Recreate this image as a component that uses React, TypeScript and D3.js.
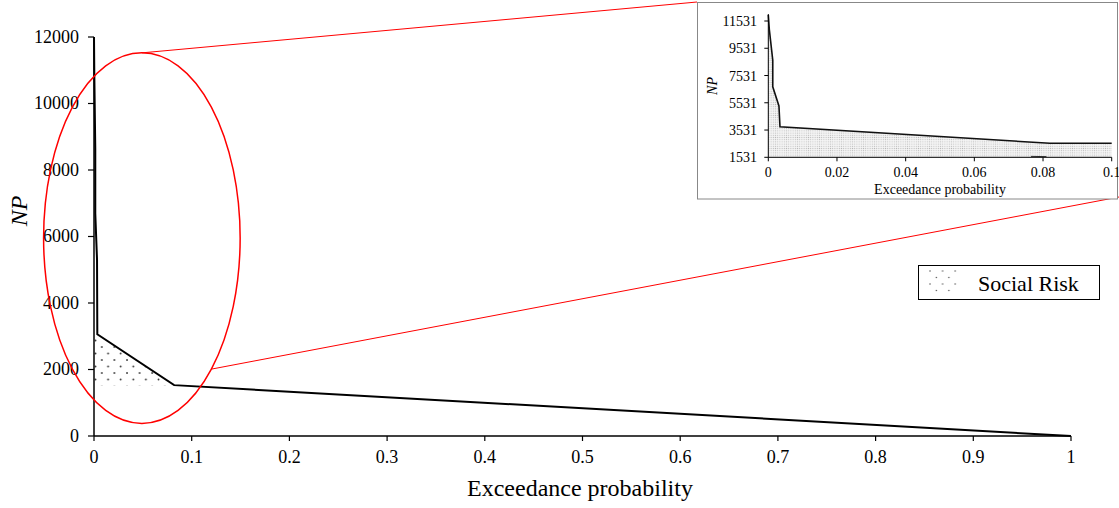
import React from "react";
import * as d3 from "d3";

// Main chart data (exceedance probability vs NP)
const mainX = [0, 0.0003, 0.0013, 0.0013, 0.0031, 0.0034, 0.082, 1];
const mainY = [12000, 10900, 8650, 6700, 5300, 3060, 1530, 0];
// Social-risk shaded region (main)
const riskX = [0, 0.0034, 0.082, 0];
const riskY = [3060, 3060, 1530, 1530];

const xTicks = [0, 0.1, 0.2, 0.3, 0.4, 0.5, 0.6, 0.7, 0.8, 0.9, 1];
const yTicks = [0, 2000, 4000, 6000, 8000, 10000, 12000];

// Inset (zoom 0..0.1)
const insetX = [0, 0.0003, 0.0013, 0.0013, 0.0031, 0.0034, 0.082, 0.1];
const insetY = [11970, 10900, 8650, 6700, 5300, 3775, 2560, 2560];
const insetXTicks = [0, 0.02, 0.04, 0.06, 0.08, 0.1];
const insetYTicks = [1531, 3531, 5531, 7531, 9531, 11531];
const artifactX = [0.0765, 0.081];
const artifactY = [1600, 1580];

// Zoom ellipse (data units)
const ellipseCenter = [0.049, 5950];
const ellipseRadii = [0.1006, 5573];

const FONT = "Liberation Serif, Times New Roman, Times, serif";

export default function App() {
  const W = 1119, H = 508;
  const x = d3.scaleLinear().domain([0, 1]).range([94, 1071]);
  const y = d3.scaleLinear().domain([0, 12000]).range([436, 37]);

  const xi = d3.scaleLinear().domain([0, 0.1]).range([768.3, 1111.7]);
  const yi = d3.scaleLinear().domain([1531, 11531]).range([157.3, 21]);

  const mainLine = d3.line<number>().x((_, i) => x(mainX[i])).y((_, i) => y(mainY[i]))(mainX)!;
  const riskPath = d3.line<number>().x((_, i) => x(riskX[i])).y((_, i) => y(riskY[i]))(riskX)! + "Z";

  const insetLine = d3.line<number>().x((_, i) => xi(insetX[i])).y((_, i) => yi(insetY[i]))(insetX)!;
  const insetArea = d3
    .area<number>()
    .x((_, i) => xi(insetX[i]))
    .y0(yi(1531))
    .y1((_, i) => yi(insetY[i]))(insetX)!;
  const artifact = d3.line<number>().x((_, i) => xi(artifactX[i])).y((_, i) => yi(artifactY[i]))(artifactX)!;

  const ecx = x(ellipseCenter[0]);
  const ecy = y(ellipseCenter[1]);
  const erx = x(ellipseCenter[0] + ellipseRadii[0]) - ecx;
  const ery = ecy - y(ellipseCenter[1] + ellipseRadii[1]);

  const tStyle = { fontFamily: FONT };

  return (
    <svg
      width={W}
      height={H}
      style={{ position: "absolute", left: 0, top: 0, background: "#fff", fontFamily: FONT }}
    >
      <defs>
        <pattern id="dots" width={12.6} height={13} patternUnits="userSpaceOnUse" x={94} y={339}>
          <circle cx={1.5} cy={1.5} r={0.9} fill="#333" />
          <circle cx={7.8} cy={8} r={0.9} fill="#333" />
        </pattern>
        <pattern id="fineDots" width={2.2} height={2.2} patternUnits="userSpaceOnUse">
          <rect width={2.2} height={2.2} fill="#f4f4f4" />
          <circle cx={1.1} cy={1.1} r={0.55} fill="#b8b8b8" />
        </pattern>
        <pattern id="legDots" width={12.6} height={13} patternUnits="userSpaceOnUse" x={929} y={270}>
          <circle cx={1} cy={1} r={0.7} fill="#444" />
          <circle cx={7.3} cy={7.5} r={0.7} fill="#444" />
        </pattern>
      </defs>

      {/* Risk fill */}
      <path d={riskPath} fill="url(#dots)" stroke="none" />

      {/* Main axes */}
      <line x1={x(0)} x2={x(1)} y1={y(0)} y2={y(0)} stroke="#000" strokeWidth={1.5} />
      <line x1={x(0)} x2={x(0)} y1={y(0)} y2={y(12000)} stroke="#000" strokeWidth={1.5} />
      {xTicks.map((t) => (
        <g key={"xt" + t}>
          <line x1={x(t)} x2={x(t)} y1={y(0)} y2={y(0) + 5} stroke="#000" strokeWidth={1.2} />
          <text x={x(t)} y={463} textAnchor="middle" style={tStyle} fontSize={18}>
            {t}
          </text>
        </g>
      ))}
      {yTicks.map((t) => (
        <g key={"yt" + t}>
          <line x1={x(0) - 6} x2={x(0)} y1={y(t)} y2={y(t)} stroke="#000" strokeWidth={1.2} />
          <text x={79} y={y(t) + 5.5} textAnchor="end" style={tStyle} fontSize={18}>
            {t}
          </text>
        </g>
      ))}
      <text x={580} y={496} textAnchor="middle" style={tStyle} fontSize={24}>
        Exceedance probability
      </text>
      <text
        transform={`translate(27,211) rotate(-90)`}
        textAnchor="middle"
        style={tStyle}
        fontStyle="italic"
        fontSize={24}
      >
        NP
      </text>

      {/* Main curve */}
      <path d={mainLine} fill="none" stroke="#000" strokeWidth={2} strokeLinejoin="miter" />

      {/* Zoom ellipse and connecting lines */}
      <ellipse cx={ecx} cy={ecy} rx={erx} ry={ery} fill="none" stroke="#ff0000" strokeWidth={1.5} />
      <line x1={ecx} y1={ecy - ery} x2={697} y2={2} stroke="#ff0000" strokeWidth={1} />
      <line x1={212} y1={369} x2={1119} y2={197} stroke="#ff0000" strokeWidth={1} />

      {/* Inset */}
      <rect x={697.5} y={2.5} width={420} height={196.5} fill="#fff" stroke="#888" strokeWidth={1} />
      <path d={insetArea} fill="url(#fineDots)" stroke="none" />
      <path d={insetLine} fill="none" stroke="#111" strokeWidth={1.6} />
      <path d={artifact} fill="none" stroke="#333" strokeWidth={1} />
      <line x1={xi(0)} x2={xi(0.1)} y1={yi(1531)} y2={yi(1531)} stroke="#000" strokeWidth={1} />
      <line x1={xi(0)} x2={xi(0)} y1={yi(1531)} y2={14} stroke="#000" strokeWidth={1} />
      {insetXTicks.map((t) => (
        <g key={"ixt" + t}>
          <line x1={xi(t)} x2={xi(t)} y1={yi(1531)} y2={yi(1531) + 4} stroke="#000" strokeWidth={1} />
          <text x={xi(t)} y={176.5} textAnchor="middle" style={tStyle} fontSize={14}>
            {t}
          </text>
        </g>
      ))}
      {insetYTicks.map((t) => (
        <g key={"iyt" + t}>
          <line x1={xi(0) - 4} x2={xi(0)} y1={yi(t)} y2={yi(t)} stroke="#000" strokeWidth={1} />
          <text x={757} y={yi(t) + 5} textAnchor="end" style={tStyle} fontSize={14}>
            {t}
          </text>
        </g>
      ))}
      <text x={940} y={194} textAnchor="middle" style={tStyle} fontSize={14}>
        Exceedance probability
      </text>
      <text
        transform={`translate(717,86) rotate(-90)`}
        textAnchor="middle"
        style={tStyle}
        fontStyle="italic"
        fontSize={14}
      >
        NP
      </text>

      {/* Legend */}
      <rect x={918.5} y={265.5} width={181} height={34} fill="#fff" stroke="#000" strokeWidth={1} />
      <rect x={928} y={270} width={32} height={22} fill="url(#legDots)" />
      <text x={978} y={291} style={tStyle} fontSize={22}>
        Social Risk
      </text>
    </svg>
  );
}
